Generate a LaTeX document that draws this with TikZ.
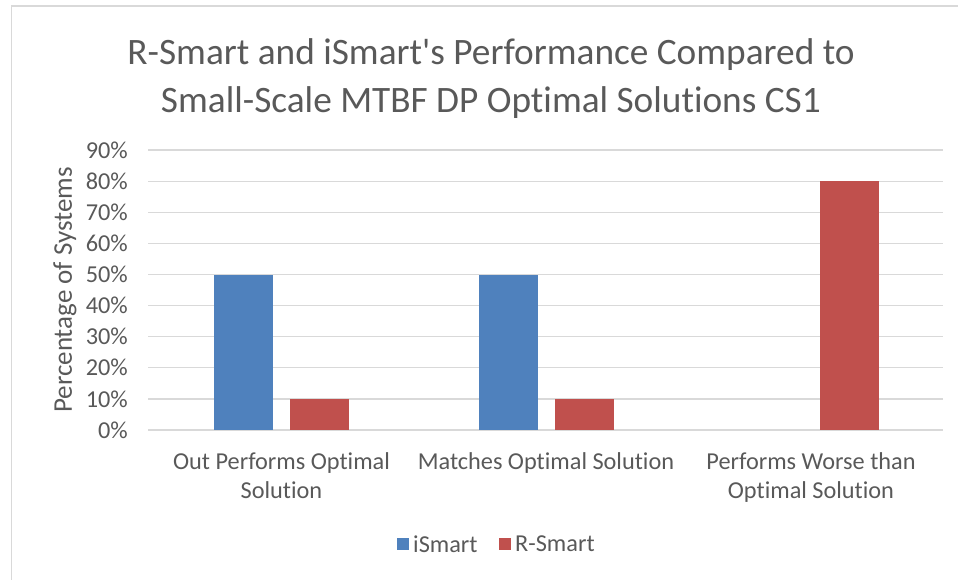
\documentclass[tikz,border=0pt]{standalone}
\usepackage{fontspec}
\setmainfont{Carlito}[Ligatures={TeXOff,NoCommon}]
\definecolor{txtgray}{HTML}{595959}
\definecolor{gridgray}{HTML}{D9D9D9}
\definecolor{ismart}{HTML}{4F81BD}
\definecolor{rsmart}{HTML}{C0504D}
\begin{document}
\begin{tikzpicture}[x=1pt,y={(0pt,-1pt)},
  gridline/.style={draw=gridgray, line width=1.3pt},
  ticklabel/.style={anchor=east, text=txtgray, inner sep=0pt, font=\fontsize{24.3}{29}\selectfont},
  catlabel/.style={text=txtgray, align=center, inner sep=0pt, font=\fontsize{24.3}{29}\selectfont},
  bluebar/.style={fill=ismart, draw=none},
  redbar/.style={fill=rsmart, draw=none},
  legtext/.style={anchor=west, text=txtgray, inner sep=0pt, font=\fontsize{24.3}{29}\selectfont}]
\useasboundingbox (0,0) rectangle (958,579);
% chart border
\draw[draw=gridgray, line width=1.5pt] (11.5,600) -- (11.5,6) -- (980,6);
% title
\node[text=txtgray, align=center, inner sep=0pt, font=\fontsize{37.3}{48}\selectfont] (title) at (491,79)
  {R-Smart and iSmart's Performance Compared to\\Small-Scale MTBF DP Optimal Solutions CS1};
% gridlines and tick labels
\foreach \k in {0,...,9}{
  \coordinate (gl\k) at (148,{430-31.1*\k});
  \coordinate (gr\k) at (943,{430-31.1*\k});
  \draw[gridline] (gl\k) -- (gr\k);
  \pgfmathtruncatemacro{\pc}{10*\k}
  \node[ticklabel] (tick\k) at (128,{430-31.1*\k}) {\pc\%};
}
% axis title
\node[rotate=90, text=txtgray, inner sep=0pt, font=\fontsize{27}{32}\selectfont] (ytitle) at (65,290) {Percentage of Systems};
% bars
\fill[bluebar] (214,430) rectangle (273,{430-31.1*5});
\fill[redbar] (290,430) rectangle (349,{430-31.1*1});
\fill[bluebar] (479,430) rectangle (538,{430-31.1*5});
\fill[redbar] (555,430) rectangle (614,{430-31.1*1});
\fill[redbar] (820,430) rectangle (879,{430-31.1*8});
% category labels
\node[catlabel, anchor=north] (cat1) at (281.5,452) {Out Performs Optimal\\Solution};
\node[catlabel, anchor=north] (cat2) at (546,452) {Matches Optimal Solution};
\node[catlabel, anchor=north] (cat3) at (811,452) {Performs Worse than\\Optimal Solution};
% legend
\fill[ismart] (397,538) rectangle (409,550);
\node[legtext] (leg1) at (413,544) {iSmart};
\fill[rsmart] (499,538) rectangle (511,550);
\node[legtext] (leg2) at (515,544) {R-Smart};
\end{tikzpicture}
\end{document}
